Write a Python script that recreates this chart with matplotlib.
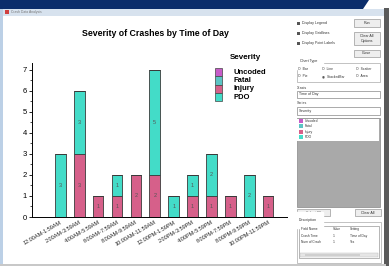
"""
plot.py
Crash analysis window mock-up: stacked bar of crash severity by time of day,
plus the surrounding window chrome and control panel.
Output: out.png (389x272)
"""

import numpy as np
import matplotlib.pyplot as plt
from matplotlib.patches import Rectangle, Polygon

plt.rcParams["font.family"] = ["Liberation Sans", "DejaVu Sans"]

W, H = 389, 272

time_bins = ["12:00AM-1:59AM", "2:00AM-3:59AM", "4:00AM-5:59AM", "6:00AM-7:59AM",
             "8:00AM-9:59AM", "10:00AM-11:59AM", "12:00PM-1:59PM", "2:00PM-3:59PM",
             "4:00PM-5:59PM", "6:00PM-7:59PM", "8:00PM-9:59PM", "10:00PM-11:59PM"]
injury  = [0, 3, 1, 1, 2, 2, 0, 1, 1, 1, 0, 1]
pdo     = [3, 3, 0, 1, 0, 5, 1, 1, 2, 0, 2, 0]
fatal   = [0] * 12
uncoded = [0] * 12

severity_names  = ["Uncoded", "Fatal", "Injury", "PDO"]
severity_colors = ["#c65cc8", "#5cc4c4", "#d6608a", "#43dcc8"]


def rect(ax, x, y, w, h, fc, ec="none", lw=0.5, z=1):
    ax.add_patch(Rectangle((x, y), w, h, facecolor=fc, edgecolor=ec, linewidth=lw, zorder=z))


def label(ax, x, y, s, size=2.6, color="#333333", **kw):
    ax.text(x, y, s, fontsize=size, color=color, va="center", **kw)


fig = plt.figure(figsize=(W / 100, H / 100), dpi=100)

# ---- window chrome drawn on a pixel-space background axes ----
bg = fig.add_axes([0, 0, 1, 1])
bg.set_xlim(0, W)
bg.set_ylim(H, 0)
bg.axis("off")

rect(bg, 0, 0, W, H, "white", z=0)
rect(bg, 0, 8.5, 386, 7.5, "#d7e2ee", z=1)      # title bar
rect(bg, 0, 8, 3.5, 258, "#bcd0e6", z=1)        # left frame
rect(bg, 384, 8, 5, 258, "#5a5a5a", z=1)        # right frame
rect(bg, 0, 264, 386, 2, "#c8c8c8", z=1)        # bottom frame
rect(bg, 5, 10, 4, 4, "#d04040", z=2)
label(bg, 11, 12, "Crash Data Analysis", size=2.4, color="#777777")

# dark page banner above the window (figure pixel coords, y up)
fig.add_artist(Polygon([(0, H), (369, H), (363, H - 9), (0, H - 9)], closed=True,
                       transform=None, facecolor="#0b2d6b", edgecolor="none", zorder=10))

# right control panel
for yy, txt in [(23, "Display Legend"), (33, "Display Gridlines"), (43, "Display Point Labels")]:
    rect(bg, 297, yy - 1.5, 3, 3, "#555555", z=2)
    label(bg, 302, yy, txt)
rect(bg, 354, 19, 26, 8, "#eeeeee", "#999999", z=2)
label(bg, 367, 23, "Run", ha="center")
rect(bg, 354, 32, 26, 13, "#eeeeee", "#999999", z=2)
label(bg, 367, 36, "Clear All", ha="center")
label(bg, 367, 41, "Options", ha="center")
rect(bg, 354, 50, 26, 7, "#eeeeee", "#999999", z=2)
label(bg, 367, 53.5, "Close", ha="center")

rect(bg, 297, 63, 83, 19, "none", "#aaaaaa", z=2)
label(bg, 300, 61, "Chart Type", backgroundcolor="white")
for xx, yy, txt in [(298, 69, "O  Bar"), (322, 69, "O  Line"), (356, 69, "O  Scatter"),
                    (298, 76, "O  Pie"), (322, 76, "\u25c9  StackedBar"), (356, 76, "O  Area")]:
    label(bg, xx, yy, txt, size=2.4)

label(bg, 297, 88, "X-axis")
rect(bg, 297, 91, 83, 7, "white", "#888888", z=2)
label(bg, 299, 94.5, "Time of Day")
label(bg, 297, 103, "Series")
rect(bg, 297, 107, 83, 8, "white", "#888888", z=2)
label(bg, 299, 111, "Severity")

rect(bg, 297, 118, 83, 89, "#a9a9a9", "#888888", z=2)
rect(bg, 297.5, 118.5, 82, 22, "white", z=3)
for i, (nm, col) in enumerate(zip(severity_names, severity_colors)):
    yy = 121 + i * 5.3
    rect(bg, 299, yy - 2, 4, 4, col, z=4)
    label(bg, 305, yy, nm, size=2.4, zorder=4)

rect(bg, 297, 209, 33, 7, "#eeeeee", "#999999", z=2)
label(bg, 313.5, 212.5, "Select All", ha="center")
rect(bg, 355, 209, 26, 7, "#eeeeee", "#999999", z=2)
label(bg, 368, 212.5, "Clear All", ha="center")

rect(bg, 297, 222, 84, 41, "none", "#aaaaaa", z=2)
label(bg, 299, 220, "Description", backgroundcolor="white")
rect(bg, 299, 226, 80, 32, "white", "#999999", z=2)
for yy, cells in [(229, ("Field Name", "Value", "Setting")),
                  (236, ("Crash Time", "1", "Time of Day")),
                  (242, ("Num of Crash", "1", "Yes"))]:
    for xx, txt in zip((301, 333, 350), cells):
        label(bg, xx, yy, txt, size=2.3, zorder=3)
rect(bg, 300, 253, 78, 3.5, "#e6e6e6", "#bbbbbb", lw=0.3, z=3)
rect(bg, 305, 253.5, 55, 2.5, "#cfcfcf", z=4)

# ---- the chart itself ----
ax = fig.add_axes([32 / W, (H - 217) / H, 255 / W, 154 / H])
ax.patch.set_alpha(0)
x = np.arange(len(time_bins))
bottom = np.zeros(len(time_bins))
for vals, col in [(injury, severity_colors[2]), (pdo, severity_colors[3]),
                  (fatal, severity_colors[1]), (uncoded, severity_colors[0])]:
    vals = np.array(vals, dtype=float)
    ax.bar(x, vals, 0.56, bottom=bottom, color=col, edgecolor="#3a3a3a", linewidth=0.6)
    for xi, v, b in zip(x, vals, bottom):
        if v > 0:
            ax.text(xi, b + v / 2, f"{int(v)}", ha="center", va="center",
                    fontsize=4, color="#555555")
    bottom += vals

ax.set_xlim(-1.5, 12.0)
ax.set_ylim(0, 7.33)
ax.set_yticks(range(8))
ax.set_yticks(np.arange(0.5, 7.3, 0.5), minor=True)
ax.set_xticks(x)
ax.set_xticklabels(time_bins, rotation=30, ha="right", rotation_mode="anchor",
                   fontsize=4, color="#222222")
ax.tick_params(axis="y", labelsize=5.5, length=2.5, width=0.6, pad=1)
ax.tick_params(axis="y", which="minor", length=1.5, width=0.5)
ax.tick_params(axis="x", length=0, pad=2)
for s in ("top", "right"):
    ax.spines[s].set_visible(False)
for s in ("left", "bottom"):
    ax.spines[s].set_linewidth(0.7)

fig.text(155 / W, 1 - 33 / H, "Severity of Crashes by Time of Day", ha="center",
         va="center", fontsize=6.3, fontweight="bold")

# legend drawn in pixel space to match the stacked swatches
bg.text(245, 57.5, "Severity", ha="center", va="center", fontsize=5.8, fontweight="bold", zorder=5)
for i, (nm, col) in enumerate(zip(severity_names, severity_colors)):
    yy = 68 + i * 8.3
    rect(bg, 215, yy, 7, 8.3, col, "#444444", lw=0.5, z=5)
    bg.text(234, yy + 4.2, nm, ha="left", va="center", fontsize=5.5, fontweight="bold", zorder=5)

fig.savefig("out.png", dpi=100)
